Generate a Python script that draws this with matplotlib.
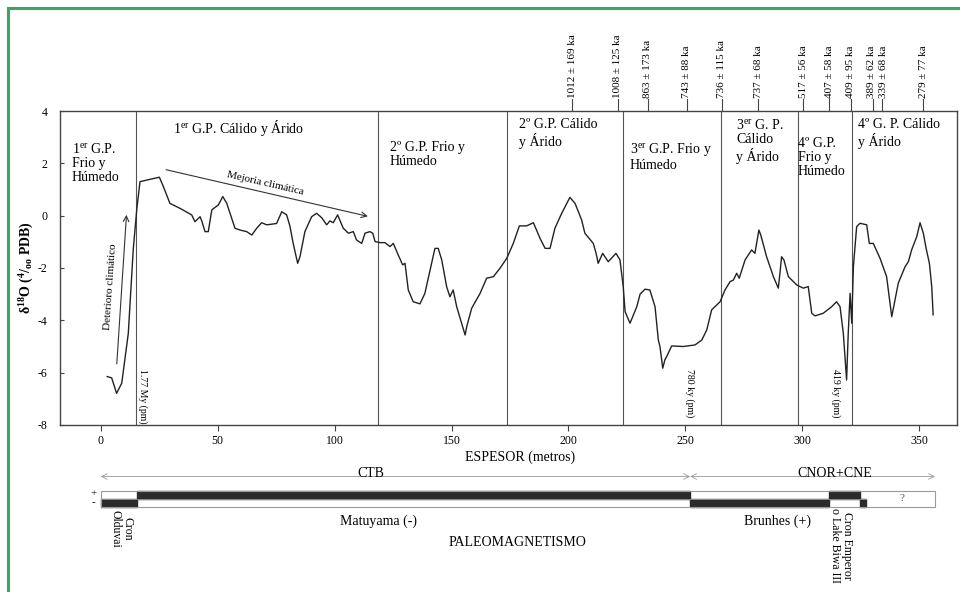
import matplotlib
matplotlib.use('Agg')
import matplotlib.pyplot as plt
from matplotlib.lines import Line2D
from matplotlib.patches import Rectangle

plt.rcParams['font.family'] = ['Liberation Serif', 'DejaVu Serif']
plt.rcParams['mathtext.fontset'] = 'custom'
plt.rcParams['mathtext.rm'] = 'Liberation Serif'
plt.rcParams['mathtext.it'] = 'Liberation Serif:italic'
plt.rcParams['mathtext.bf'] = 'Liberation Serif:bold'
plt.rcParams['axes.unicode_minus'] = False

# curva isotopica (espesor en metros, d18O)
espesor = [2.8, 4.7, 6.8, 9.0, 11.8, 13.9, 15.4, 16.8, 19.7, 25.1, 26.8, 29.6, 33.9,
           38.9, 40.3, 42.5, 43.2, 44.6, 46.0, 47.5, 50.3, 52.2, 53.9, 56.0, 57.4,
           59.6, 62.4, 64.6, 66.7, 68.8, 71.0, 75.2, 77.4, 79.5, 80.9, 82.3, 84.2,
           85.2, 87.3, 90.2, 92.3, 94.5, 96.6, 98.0, 99.4, 101.3, 103.7, 105.9, 108.0,
           109.4, 111.6, 113.0, 115.1, 116.3, 117.3, 119.4,
           121.5, 123.7, 125.1, 127.2, 129.1, 130.1, 131.5, 133.6, 136.5, 138.6,
           141.5, 142.9, 144.3, 145.8, 147.9, 149.3, 150.7, 152.2, 154.3, 155.8,
           156.5, 158.6, 162.2, 165.0, 167.9, 170.7, 173.6, 176.4, 179.0, 182.1,
           185.0, 187.8, 190.0, 192.1, 194.2, 197.1, 200.6, 202.8, 205.6, 207.0,
           210.6, 211.8, 212.7, 214.6, 217.0, 220.3, 222.0, 223.4, 224.2, 226.3,
           229.2, 230.6, 232.7, 234.8, 237.0, 238.4,
           239.1, 240.3, 241.2, 242.0, 244.1, 249.1, 254.1, 257.0, 259.1, 261.2,
           264.8, 266.9, 269.1, 270.5, 271.9, 273.0, 275.5, 278.3, 279.7, 280.7,
           281.4, 282.2, 284.7, 287.6, 289.7, 290.4, 291.1, 292.1, 294.0, 297.6,
           300.4, 302.5, 304.0, 305.4, 308.9, 312.5, 314.6, 316.1, 317.5, 318.9,
           319.6, 320.4, 321.1, 321.8, 323.2, 324.6, 327.5, 328.6, 330.3, 333.2,
           336.0, 338.2, 341.0, 343.9, 345.3, 346.7, 348.9, 350.3, 351.7, 352.9,
           354.3, 355.3, 355.9]
d18o = [-6.15, -6.2, -6.79, -6.4, -4.5, -1.31, 0.22, 1.30, 1.36, 1.47, 1.11, 0.47, 0.28,
        0.03, -0.23, -0.04, -0.2, -0.61, -0.61, 0.22, 0.41, 0.73, 0.47, -0.1, -0.48,
        -0.55, -0.61, -0.74, -0.48, -0.27, -0.35, -0.3, 0.15, 0.03, -0.4, -1.06, -1.82,
        -1.57, -0.61, -0.04, 0.09, -0.08, -0.35, -0.2, -0.27, 0.03, -0.48, -0.67, -0.61,
        -0.93, -1.06, -0.67, -0.61, -0.67, -0.99, -1.03,
        -1.03, -1.18, -1.06, -1.5, -1.88, -1.82, -2.84, -3.29, -3.37, -2.97,
        -1.82, -1.25, -1.25, -1.69, -2.71, -3.1, -2.84, -3.48, -4.11, -4.56,
        -4.24, -3.54, -2.97, -2.39, -2.33, -2.01, -1.63, -1.06, -0.39, -0.39,
        -0.27, -0.86, -1.25, -1.25, -0.48, 0.09, 0.70, 0.47, -0.16, -0.67,
        -1.06, -1.44, -1.82, -1.44, -1.76, -1.44, -1.69, -2.71, -3.67, -4.11,
        -3.48, -3.0, -2.81, -2.84, -3.48, -4.75,
        -5.0, -5.83, -5.51, -5.38, -4.98, -5.0, -4.94, -4.75, -4.37, -3.6,
        -3.29, -2.84, -2.52, -2.46, -2.2, -2.39, -1.69, -1.31, -1.44, -0.93,
        -0.55, -0.74, -1.57, -2.33, -2.77, -2.2, -1.57, -1.69, -2.33, -2.65,
        -2.77, -2.71, -3.73, -3.83, -3.73, -3.48, -3.29, -3.48, -4.5, -6.28,
        -4.5, -2.97, -4.11, -1.95, -0.42, -0.29, -0.35, -1.06, -1.06, -1.63,
        -2.33, -3.86, -2.58, -1.95, -1.76, -1.31, -0.8, -0.27, -0.67, -1.25,
        -1.82, -2.71, -3.79]

# limites entre grandes periodos
limites = [15.0, 118.7, 173.6, 223.4, 265.2, 298.0, 321.1]

periodos = ['1$^{\\rm er}$ G.P.\nFrio y\nHúmedo',
            '1$^{\\rm er}$ G.P. Cálido y Árido',
            '2º G.P. Frio y\nHúmedo',
            '2º G.P. Cálido\ny Árido',
            '3$^{\\rm er}$ G.P. Frio y\nHúmedo',
            '3$^{\\rm er}$ G. P.\nCálido\ny Árido',
            '4º G.P.\nFrio y\nHúmedo',
            '4º G. P. Cálido\ny Árido']
periodos_x = [-12.4, 30.9, 123.7, 179.0, 226.3, 271.6, 298.0, 323.9]
periodos_y = [2.80, 3.72, 2.85, 3.72, 2.85, 3.72, 2.99, 3.72]

# dataciones
edades_x = [201.6, 221.0, 233.9, 250.5, 265.5, 281.1, 300.4, 311.5, 320.7, 330.3, 333.9, 351.7]
edades = ['1012 ± 169 ka', '1008 ± 125 ka', '863 ± 173 ka', '743 ± 88 ka',
          '736 ± 115 ka', '737 ± 68 ka', '517 ± 56 ka', '407 ± 58 ka',
          '409 ± 95 ka', '389 ± 62 ka', '339 ± 68 ka', '279 ± 77 ka']
# pequeno desplazamiento del texto para las dos etiquetas casi juntas
edades_dx = [0, 0, 0, 0, 0, 0, 0, 0, 0, -0.6, 0.6, 0]

# limites paleomagneticos
pm_textos = ['1.77 My (pm)', '780 ky (pm)', '419 ky (pm)']
pm_x = [18.1, 252.0, 314.4]

# paleomagnetismo: tramos en negro de cada fila
fila_sup = [(15.4, 252.0), (311.5, 324.6)]
fila_inf = [(0.0, 15.4), (252.0, 311.5), (324.6, 327.4)]
fin_registro = 356.7
unidades = ['CTB', 'CNOR+CNE']
unidades_lim = [(0.0, 252.0), (252.0, 356.7)]

W, H = 960, 592
fig = plt.figure(figsize=(9.6, 5.92), dpi=100)
fig.patch.set_facecolor('white')

ax = fig.add_axes([60 / W, 1 - 425 / H, 897 / W, 314 / H])
ax.plot(espesor, d18o, color='#222222', lw=1.0, zorder=3)
for x in limites:
    ax.axvline(x, color='#555555', lw=0.8)
ax.set_xlim(-17.4, 366.1)
ax.set_ylim(-8, 4)
ax.set_xticks(range(0, 351, 50))
ax.set_yticks(range(-8, 5, 2))
ax.tick_params(axis='x', direction='out', length=4, pad=3, labelsize=8.5, color='#444444')
ax.tick_params(axis='y', direction='in', length=3, pad=9, labelsize=8.5, color='#444444')
for s in ax.spines.values():
    s.set_color('#444444')
    s.set_linewidth(1.0)

ax.text(-0.0368, 0.5, 'δ$^{\\mathbf{18}}$O ($^{\\mathbf{4}}$/$_{\\mathbf{oo}}$ PDB)',
        transform=ax.transAxes, rotation=90, ha='center', va='center',
        fontsize=10, fontweight='bold')
ax.text(0.5128, -0.102, 'ESPESOR (metros)', transform=ax.transAxes,
        ha='center', va='center', fontsize=10)

for txt, x, y in zip(periodos, periodos_x, periodos_y):
    ax.text(x, y, txt, ha='left', va='top', fontsize=10, linespacing=1.1)

trans = ax.get_xaxis_transform()
for x, lab, dx in zip(edades_x, edades, edades_dx):
    ax.plot([x, x], [1.0, 1.038], transform=trans, clip_on=False,
            color='#444444', lw=0.8)
    ax.text(x + dx, 1.041, lab, transform=trans, rotation=90, ha='center',
            va='bottom', fontsize=8.0)

for x, lab in zip(pm_x, pm_textos):
    ax.text(x, -5.85, lab, rotation=270, ha='center', va='top', fontsize=7)

# flechas
ax.annotate('', xy=(115.4, -0.05), xytext=(26.8, 1.78),
            arrowprops=dict(arrowstyle='->', color='#333333', lw=0.8))
ax.text(70.2, 1.25, 'Mejoria climática', rotation=-13, ha='center', va='center', fontsize=8)
ax.annotate('', xy=(11.1, 0.14), xytext=(6.8, -5.77),
            arrowprops=dict(arrowstyle='->', color='#333333', lw=0.8))
ax.text(4.0, -2.71, 'Deterioro climático', rotation=86, ha='center', va='center', fontsize=8)

# panel inferior: unidades y paleomagnetismo
axb = fig.add_axes([60 / W, 0, 897 / W, 167 / H], facecolor='none')
axb.set_xlim(ax.get_xlim())
axb.set_ylim(592, 425)
axb.axis('off')

for (a, b), lab in zip(unidades_lim, unidades):
    axb.annotate('', xy=(a, 476.5), xytext=(b, 476.5),
                 arrowprops=dict(arrowstyle='<->', color='#999999', lw=0.6,
                                 shrinkA=0, shrinkB=0))
axb.text(115.6, 477, 'CTB', ha='center', va='baseline', fontsize=10)
axb.text(313.9, 477, 'CNOR+CNE', ha='center', va='baseline', fontsize=10)

axb.broken_barh([(a, b - a) for a, b in fila_sup], (490.7, 8), color='#2b2b2b')
axb.broken_barh([(a, b - a) for a, b in fila_inf], (498.7, 8), color='#2b2b2b')
axb.add_patch(Rectangle((0, 490.7), fin_registro, 16, fill=False, ec='#9a9a9a', lw=0.8))
axb.plot([0, fila_inf[-1][1]], [498.7, 498.7], color='#9a9a9a', lw=0.6)
axb.text(342.5, 498.7, '?', ha='center', va='center', fontsize=8, color='#555555')
axb.text(-3.2, 493.5, '+', ha='center', va='center', fontsize=8)
axb.text(-3.2, 503, '-', ha='center', va='center', fontsize=8)

axb.text(8.8, 510, 'Cron\nOlduvai', rotation=270, ha='center', va='top',
         fontsize=8.5, linespacing=1.0)
axb.text(118.6, 521, 'Matuyama (-)', ha='center', va='center', fontsize=10)
axb.text(289.4, 521.5, 'Brunhes (+)', ha='center', va='center', fontsize=10)
axb.text(316.3, 508, 'Cron Emperor\no Lake Biwa III', rotation=270, ha='center',
         va='top', fontsize=8.5, linespacing=1.0)
axb.text(178.0, 543, 'PALEOMAGNETISMO', ha='center', va='center', fontsize=10)

# marco verde
fig.add_artist(Line2D([8 / W, 1], [1 - 8 / H, 1 - 8 / H], transform=fig.transFigure,
                      color='#3ea55e', lw=2.2))
fig.add_artist(Line2D([8 / W, 8 / W], [0, 1 - 8 / H], transform=fig.transFigure,
                      color='#3ea55e', lw=2.2))

fig.savefig('out.png', dpi=100)
